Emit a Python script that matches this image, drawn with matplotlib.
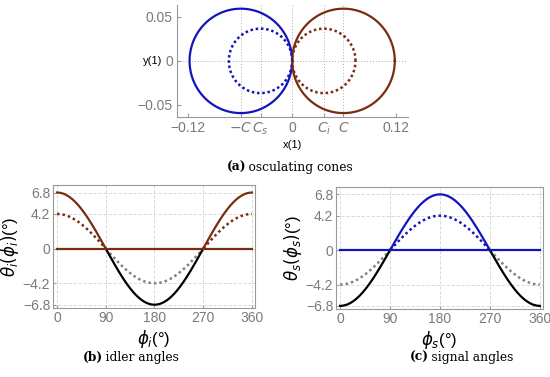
import matplotlib
matplotlib.use("Agg")
import matplotlib.pyplot as plt
import numpy as np

# cone parameters
C = 0.0593      # big cone radius / centre offset
Cs = 0.0366     # signal small cone
Ci = 0.0366     # idler small cone
x_ticks = [-0.12, -C, -Cs, 0, Ci, C, 0.12]
x_ticklabels = ['\u22120.12', r'$-C$', r'$C_s$', '0', r'$C_i$', r'$C$', '0.12']
y_ticks = [-0.05, 0, 0.05]
y_ticklabels = ['\u22120.05', '0', '0.05']
grid_x = [-C, -Cs, 0, Ci, C]

# angle curves
theta_big = 6.8     # deg
theta_small = 4.2   # deg
phi = np.linspace(0, 360, 721)
ang_ticks = [0, 90, 180, 270, 360]
theta_ticks = [-6.8, -4.2, 0, 4.2, 6.8]
theta_ticklabels = ['\u22126.8', '\u22124.2', '0', '4.2', '6.8']

blue = '#1414bc'
brown = '#7a2c10'
gray_txt = '#7a7a7a'
gray_dot = '#808080'

plt.rcParams['font.family'] = ['Liberation Sans', 'DejaVu Sans']
plt.rcParams['mathtext.fontset'] = 'dejavusans'

fig = plt.figure(figsize=(5.5, 3.77), dpi=100)

# ---------- (a) osculating cones ----------
ax = fig.add_axes([0.322, 0.690, 0.42, 0.297])
t = np.linspace(0, 2 * np.pi, 400)
ax.plot(-C + C * np.cos(t), C * np.sin(t), color=blue, lw=1.6)
ax.plot(C + C * np.cos(t), C * np.sin(t), color=brown, lw=1.6)
ax.plot(-Cs + Cs * np.cos(t), Cs * np.sin(t), color=blue, lw=1.8, ls=(0, (1, 1.1)))
ax.plot(Ci + Ci * np.cos(t), Ci * np.sin(t), color=brown, lw=1.8, ls=(0, (1, 1.1)))
for gx in grid_x:
    ax.axvline(gx, color='#aaaaaa', lw=0.7, ls=(0, (1, 2)), zorder=0)
ax.axhline(0, color='#aaaaaa', lw=0.7, ls=(0, (1, 2)), zorder=0)
ax.set_xlim(-0.133, 0.134)
ax.set_ylim(-0.0636, 0.0636)
ax.set_xticks(x_ticks)
ax.set_xticklabels(x_ticklabels)
ax.set_yticks(y_ticks)
ax.set_yticklabels(y_ticklabels)
ax.tick_params(direction='in', length=3, colors='#999999', labelcolor=gray_txt,
               labelsize=10, pad=3)
for s in ['top', 'right']:
    ax.spines[s].set_visible(False)
for s in ['left', 'bottom']:
    ax.spines[s].set_color('#999999')
ax.set_xlabel('x(1)', fontsize=8, labelpad=2)
ax.set_ylabel('y(1)', fontsize=8, rotation=0, ha='right', va='center')
ax.yaxis.set_label_coords(-0.065, 0.5)


def angle_panel(rect, sign, col, lab_y, lab_x):
    ax = fig.add_axes(rect)
    big = sign * theta_big * np.cos(np.radians(phi))
    small = sign * theta_small * np.cos(np.radians(phi))
    ax.plot(phi, np.where(small >= 0, small, np.nan), color=col, lw=1.8, ls=(0, (1, 1.2)))
    ax.plot(phi, np.where(small <= 0, small, np.nan), color=gray_dot, lw=1.8, ls=(0, (1, 1.2)))
    ax.plot(phi, np.where(big <= 0, big, np.nan), color='black', lw=1.6)
    ax.plot(phi, np.where(big >= 0, big, np.nan), color=col, lw=1.6)
    ax.plot(phi, np.zeros_like(phi), color=col, lw=1.6)
    ax.set_xlim(-7.4, 365.5)
    ax.set_ylim(-7.2, 7.7)
    ax.set_xticks(ang_ticks)
    ax.set_yticks(theta_ticks)
    ax.set_yticklabels(theta_ticklabels)
    ax.grid(color='#d4d4d4', lw=0.6, ls=(0, (4, 2)))
    ax.tick_params(direction='in', length=2.5, colors='#999999', labelcolor=gray_txt,
                   labelsize=10, pad=2)
    for s in ax.spines.values():
        s.set_color('#999999')
    ax.set_ylabel(lab_y, fontsize=12, labelpad=1)
    ax.set_xlabel(lab_x, fontsize=12, labelpad=2)
    return ax


angle_panel([0.0964, 0.183, 0.367, 0.326], 1, brown,
            r'$\theta_i(\phi_i)$(°)', r'$\phi_i$(°)')
angle_panel([0.611, 0.180, 0.376, 0.324], -1, blue,
            r'$\theta_s(\phi_s)$(°)', r'$\phi_s$(°)')

# captions with bold letter
renderer = fig.canvas.get_renderer()


def caption(cx, cy, letter, rest):
    kw = dict(fontsize=8.8, family='DejaVu Serif', va='center', ha='left')
    t1 = fig.text(0, cy, letter, weight='bold', **kw)
    t2 = fig.text(0, cy, '\u2009' + rest, **kw)
    w1 = t1.get_window_extent(renderer).width / fig.bbox.width
    w2 = t2.get_window_extent(renderer).width / fig.bbox.width
    x0 = cx - (w1 + w2) / 2
    t1.set_x(x0)
    t2.set_x(x0 + w1)


caption(0.527, 0.556, '(a)', 'osculating cones')
caption(0.238, 0.053, '(b)', 'idler angles')
caption(0.840, 0.053, '(c)', 'signal angles')

fig.savefig('out.png', dpi=100)
